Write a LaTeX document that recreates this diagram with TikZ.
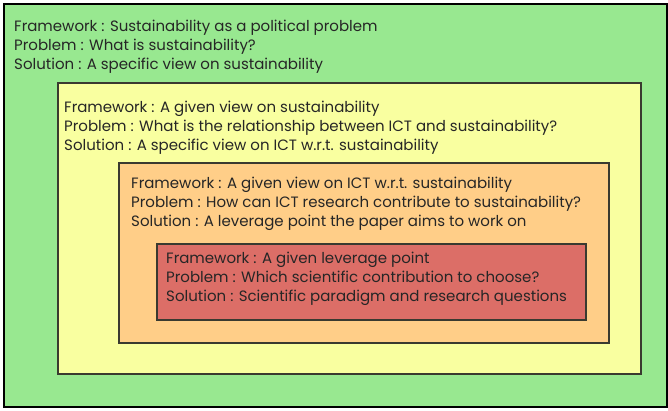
\documentclass[tikz,border=0pt]{standalone}
\usepackage{fontspec}
\setmainfont{Poppins}
\definecolor{cgreen}{HTML}{98E890}
\definecolor{cyellow}{HTML}{F9FFA0}
\definecolor{corange}{HTML}{FFCE88}
\definecolor{cred}{HTML}{DC6E67}
\definecolor{cborder}{HTML}{3A3A30}
\begin{document}
\begin{tikzpicture}[x=1pt,y=-1pt,
  box/.style={draw=cborder, line width=1.1pt, anchor=north west, inner sep=0pt, outer sep=0pt},
  txt/.style={anchor=north west, inner sep=0pt, align=left, font=\fontsize{15}{19}\selectfont, text=black!85}]
\useasboundingbox (0,0) rectangle (668,411);
\node[box, draw=black, line width=1.5pt, fill=cgreen, minimum width=663pt, minimum height=403pt] (green) at (4,4) {};
\node[box, fill=cyellow, minimum width=583pt, minimum height=291pt] (yellow) at (58,83) {};
\node[box, fill=corange, minimum width=490pt, minimum height=180pt] (orange) at (119,163) {};
\node[box, fill=cred, minimum width=429pt, minimum height=76pt] (red) at (157,244) {};
\node[txt] (t1) at (14,19.5) {Framework : Sustainability as a political problem\\Problem : What is sustainability?\\Solution : A specific view on sustainability};
\node[txt] (t2) at (64,100.5) {Framework : A given view on sustainability\\Problem : What is the relationship between ICT and sustainability?\\Solution : A specific view on ICT w.r.t. sustainability};
\node[txt] (t3) at (131,176.5) {Framework : A given view on ICT w.r.t. sustainability\\Problem : How can ICT research contribute to sustainability?\\Solution : A leverage point the paper aims to work on};
\node[txt] (t4) at (166,251.5) {Framework : A given leverage point\\Problem : Which scientific contribution to choose?\\Solution : Scientific paradigm and research questions};
\end{tikzpicture}
\end{document}
